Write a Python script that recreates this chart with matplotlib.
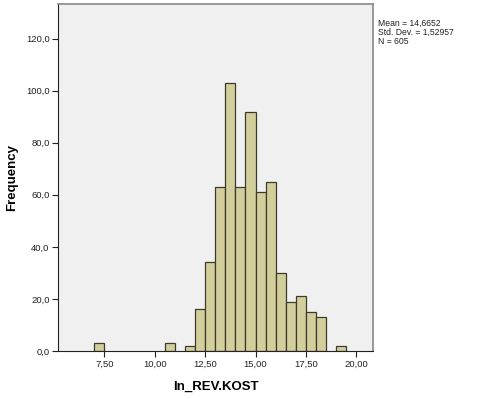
import numpy as np
import matplotlib
matplotlib.use("Agg")
import matplotlib.pyplot as plt
from matplotlib.ticker import FuncFormatter

plt.rcParams["font.family"] = ["Liberation Sans", "DejaVu Sans"]

# bin edges (width 0.5) and counts
bin_left = [7.0, 10.5, 11.5, 12.0, 12.5, 13.0, 13.5, 14.0, 14.5,
            15.0, 15.5, 16.0, 16.5, 17.0, 17.5, 18.0, 19.0]
counts = [3, 3, 2, 16, 34, 63, 103, 63, 92, 61, 65, 30, 19, 21, 15, 13, 2]
bin_width = 0.5

x_ticks = [7.5, 10.0, 12.5, 15.0, 17.5, 20.0]
y_ticks = [0, 20, 40, 60, 80, 100, 120]
stats_text = "Mean = 14,6652\nStd. Dev. = 1,52957\nN = 605"

fig = plt.figure(figsize=(4.98, 3.99), dpi=100)
ax = fig.add_axes([0.1165, 0.1203, 0.6325, 0.8697])
ax.set_facecolor("#f0f0f0")

ax.bar(bin_left, counts, width=bin_width, align="edge",
       color="#d3cf9c", edgecolor="#3c3a2c", linewidth=0.9)

ax.set_xlim(5.2, 20.83)
ax.set_ylim(0, 133.3)
ax.set_xticks(x_ticks)
ax.set_yticks(y_ticks)
ax.xaxis.set_major_formatter(FuncFormatter(lambda v, p: f"{v:.2f}".replace(".", ",")))
ax.yaxis.set_major_formatter(FuncFormatter(lambda v, p: f"{v:.1f}".replace(".", ",")))
ax.tick_params(labelsize=6.8, length=4, width=0.8, colors="#222222", pad=2)

for side in ["top", "right"]:
    ax.spines[side].set_color("#888888")
    ax.spines[side].set_linewidth(1.2)
for side in ["left", "bottom"]:
    ax.spines[side].set_color("#222222")

ax.set_xlabel("ln_REV.KOST", fontsize=9.5, fontweight="bold")
ax.set_ylabel("Frequency", fontsize=9.5, fontweight="bold")
ax.xaxis.set_label_coords(0.5, -0.086)
ax.yaxis.set_label_coords(-0.127, 0.5)

fig.text(0.759, 0.953, stats_text, fontsize=6.2, va="top", ha="left",
         linespacing=1.05, color="#222222")

fig.savefig("out.png", dpi=100)
